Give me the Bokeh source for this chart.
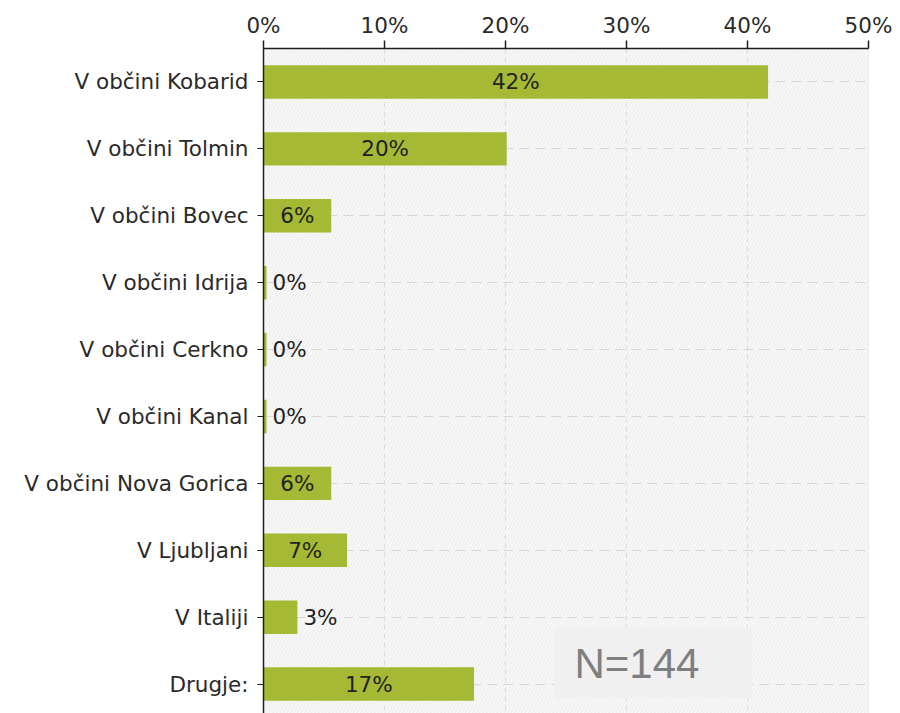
from bokeh.plotting import figure
from bokeh.models import (Range1d, FixedTicker, BoxAnnotation, Label,
                          ColumnDataSource, PrintfTickFormatter)
from bokeh.core.properties import value
from bokeh.embed import file_html
from bokeh.resources import INLINE

categories = ["V občini Kobarid", "V občini Tolmin", "V občini Bovec",
              "V občini Idrija", "V občini Cerkno", "V občini Kanal",
              "V občini Nova Gorica", "V Ljubljani", "V Italiji", "Drugje:"]
values = [41.7, 20.1, 5.6, 0.0, 0.0, 0.0, 5.6, 6.9, 2.8, 17.4]
x_ticks = [0, 10, 20, 30, 40, 50]
n_label = "N=144"

FONT = "DejaVu Sans"
FS = "21.5px"
BAR = "#a5b935"

ys = list(range(len(categories)))
labels = [f"{round(v)}%" for v in values]
inside = [v >= 5 for v in values]
src = ColumnDataSource(dict(
    y=ys,
    right=[max(v, 0.25) for v in values],
    lx=[(v / 2 if ins else max(v, 0.25)) for v, ins in zip(values, inside)],
    align=["center" if ins else "left" for ins in inside],
    xoff=[0 if ins else 6 for ins in inside],
    lbl=labels,
))

p = figure(width=900, height=713,
           x_range=Range1d(0, 50), y_range=Range1d(9.44, -0.5),
           x_axis_location="above",
           output_backend="svg", toolbar_location=None,
           min_border_left=263, min_border_right=32,
           min_border_top=48, min_border_bottom=0)
p.background_fill_color = "#f7f7f7"
p.border_fill_color = "white"
p.outline_line_color = "#e6e6e6"

# hatched background
bg = BoxAnnotation(left=0, right=50, top=-0.5, bottom=9.44,
                   fill_color="#f7f7f7", fill_alpha=1, line_color=None,
                   hatch_pattern="/", hatch_color="#ececec",
                   hatch_scale=7, hatch_weight=1, level="underlay")
p.center = [bg] + list(p.center)

# x axis (top)
xa = p.xaxis[0]
xa.ticker = FixedTicker(ticks=x_ticks)
xa.formatter = PrintfTickFormatter(format="%d%%")
xa.major_tick_out = 8
xa.major_tick_in = 0
xa.minor_tick_out = 0
xa.minor_tick_in = 0
xa.axis_line_color = "#1e1e1e"
xa.axis_line_width = 1.5
xa.major_tick_line_color = "#1e1e1e"
xa.major_tick_line_width = 1.5
xa.major_label_text_font = FONT
xa.major_label_text_font_size = FS
xa.major_label_text_color = "#2a2a2a"
xa.major_label_standoff = 3

# y axis (left)
ya = p.yaxis[0]
ya.ticker = FixedTicker(ticks=ys)
ya.major_label_overrides = {i: c for i, c in zip(ys, categories)}
ya.major_tick_out = 6
ya.major_tick_in = 0
ya.minor_tick_out = 0
ya.minor_tick_in = 0
ya.axis_line_color = "#1e1e1e"
ya.axis_line_width = 1.5
ya.major_tick_line_color = "#1e1e1e"
ya.major_label_text_font = FONT
ya.major_label_text_font_size = FS
ya.major_label_text_color = "#2a2a2a"
ya.major_label_standoff = 9

# grids
p.xgrid.ticker = FixedTicker(ticks=x_ticks)
p.xgrid.grid_line_color = "#dddddd"
p.xgrid.grid_line_dash = "5 4"
p.ygrid.ticker = FixedTicker(ticks=ys)
p.ygrid.grid_line_color = "#d8d8d8"
p.ygrid.grid_line_dash = "10 6"

p.hbar(y="y", left=0, right="right", height=0.5, source=src,
       fill_color=BAR, line_color=None)

p.text(x="lx", y="y", text="lbl", source=src,
       text_align="align", x_offset="xoff", text_baseline="middle",
       text_font=value(FONT), text_font_size=FS, text_color="#222222")

nbox = BoxAnnotation(left=24.05, right=40.33, top=8.16, bottom=9.22,
                     fill_color="#f0f0f0", fill_alpha=1, line_color=None)
p.add_layout(nbox)
p.add_layout(Label(x=25.7, y=8.7, text=n_label, text_baseline="middle",
                   text_font="Liberation Sans", text_font_size="42px",
                   text_color="#7f7f7f"))

open("out.html", "w").write(file_html(p, INLINE))
